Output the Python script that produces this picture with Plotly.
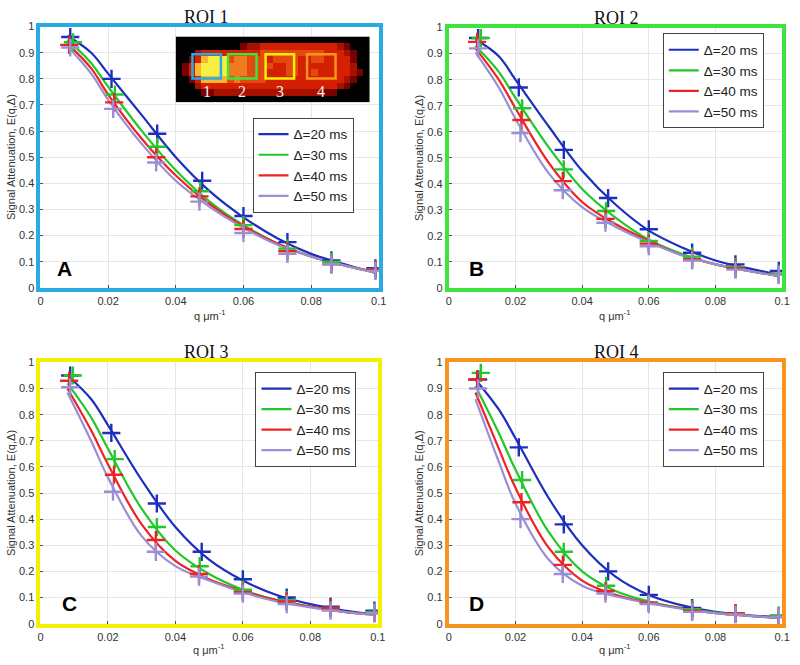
import plotly.graph_objects as go

# ---------------- data ----------------
deltas = ["Δ=20 ms", "Δ=30 ms", "Δ=40 ms", "Δ=50 ms"]
colors = ["#1c2fbe", "#22c82a", "#ee2222", "#9a8ed6"]

q20 = [0.0088, 0.0210, 0.0345, 0.0478, 0.0600, 0.0730, 0.0860, 0.0990]
q30 = [0.0096, 0.0220, 0.0345, 0.0472, 0.0600, 0.0730, 0.0860, 0.0990]
q40 = [0.0085, 0.0218, 0.0342, 0.0470, 0.0600, 0.0730, 0.0860, 0.0990]
q50 = [0.0088, 0.0215, 0.0342, 0.0470, 0.0600, 0.0730, 0.0860, 0.0990]
q_points = [q20, q30, q40, q50]

q_fit = [0.008, 0.015, 0.020, 0.030, 0.040, 0.050, 0.060, 0.070, 0.080, 0.090, 0.099]

# measured points (E) per ROI, per delta
roi1_pts = [
    [0.96, 0.80, 0.59, 0.41, 0.275, 0.175, 0.105, 0.075],
    [0.94, 0.74, 0.54, 0.37, 0.24, 0.15, 0.10, 0.07],
    [0.93, 0.71, 0.50, 0.35, 0.225, 0.14, 0.09, 0.07],
    [0.92, 0.685, 0.48, 0.33, 0.21, 0.13, 0.09, 0.065],
]
roi2_pts = [
    [0.96, 0.77, 0.53, 0.345, 0.225, 0.135, 0.09, 0.065],
    [0.96, 0.69, 0.455, 0.295, 0.18, 0.12, 0.08, 0.055],
    [0.945, 0.645, 0.41, 0.265, 0.17, 0.11, 0.075, 0.05],
    [0.92, 0.595, 0.375, 0.25, 0.16, 0.105, 0.07, 0.05],
]
roi3_pts = [
    [0.95, 0.73, 0.46, 0.275, 0.17, 0.10, 0.065, 0.05],
    [0.95, 0.63, 0.37, 0.22, 0.13, 0.09, 0.06, 0.045],
    [0.93, 0.57, 0.32, 0.19, 0.12, 0.085, 0.06, 0.04],
    [0.905, 0.505, 0.275, 0.18, 0.115, 0.075, 0.05, 0.04],
]
roi4_pts = [
    [0.935, 0.675, 0.38, 0.20, 0.11, 0.06, 0.04, 0.03],
    [0.96, 0.55, 0.275, 0.145, 0.08, 0.055, 0.04, 0.03],
    [0.935, 0.465, 0.225, 0.125, 0.08, 0.05, 0.04, 0.025],
    [0.90, 0.40, 0.19, 0.115, 0.075, 0.045, 0.035, 0.025],
]

# fitted curves (at q_fit)
roi1_fit = [
    [0.965, 0.90, 0.82, 0.66, 0.50, 0.37, 0.27, 0.19, 0.13, 0.09, 0.057],
    [0.95, 0.86, 0.77, 0.60, 0.45, 0.33, 0.24, 0.17, 0.12, 0.085, 0.06],
    [0.935, 0.84, 0.74, 0.57, 0.43, 0.32, 0.235, 0.17, 0.12, 0.085, 0.06],
    [0.925, 0.82, 0.72, 0.55, 0.41, 0.31, 0.23, 0.165, 0.12, 0.085, 0.058],
]
roi2_fit = [
    [0.955, 0.89, 0.80, 0.62, 0.45, 0.32, 0.22, 0.155, 0.105, 0.075, 0.05],
    [0.93, 0.83, 0.73, 0.54, 0.38, 0.27, 0.185, 0.13, 0.09, 0.065, 0.045],
    [0.92, 0.80, 0.69, 0.48, 0.33, 0.245, 0.18, 0.125, 0.09, 0.065, 0.045],
    [0.905, 0.77, 0.65, 0.44, 0.31, 0.235, 0.175, 0.125, 0.09, 0.065, 0.045],
]
roi3_fit = [
    [0.95, 0.86, 0.76, 0.55, 0.37, 0.245, 0.165, 0.11, 0.075, 0.05, 0.035],
    [0.92, 0.79, 0.67, 0.44, 0.28, 0.19, 0.13, 0.09, 0.065, 0.045, 0.035],
    [0.90, 0.74, 0.61, 0.38, 0.24, 0.17, 0.125, 0.09, 0.065, 0.045, 0.035],
    [0.885, 0.70, 0.56, 0.335, 0.22, 0.165, 0.12, 0.085, 0.062, 0.045, 0.033],
]
roi4_fit = [
    [0.935, 0.82, 0.71, 0.48, 0.30, 0.18, 0.11, 0.07, 0.045, 0.032, 0.025],
    [0.91, 0.73, 0.59, 0.35, 0.20, 0.125, 0.085, 0.06, 0.042, 0.03, 0.022],
    [0.885, 0.67, 0.52, 0.29, 0.165, 0.11, 0.08, 0.058, 0.04, 0.03, 0.022],
    [0.86, 0.62, 0.46, 0.245, 0.145, 0.105, 0.078, 0.056, 0.04, 0.03, 0.022],
]

roi_titles = ["ROI 1", "ROI 2", "ROI 3", "ROI 4"]
panel_letters = ["A", "B", "C", "D"]
frame_colors = ["#29aae2", "#3ee43e", "#f4f000", "#f7941d"]

x_ticks = [0, 0.02, 0.04, 0.06, 0.08, 0.1]
x_tick_labels = ["0", "0.02", "0.04", "0.06", "0.08", "0.1"]
y_ticks = [0, 0.1, 0.2, 0.3, 0.4, 0.5, 0.6, 0.7, 0.8, 0.9, 1]
y_tick_labels = ["0", "0.1", "0.2", "0.3", "0.4", "0.5", "0.6", "0.7", "0.8", "0.9", "1"]

# inset image (intensity levels 0-9), rows top to bottom
inset_rows = [
    "000000000000000000000000000000",
    "000000000034455555555555543000",
    "000455555555566666666665554300",
    "003589996776665666655665555300",
    "035899997776666556655555555400",
    "035899997776665556655655555430",
    "003588886766665555555555554300",
    "000455555555555555555555543000",
    "000033444444444444444443300000",
    "000000000000000000000000000000",
]
roi_box_colors = ["#29aae2", "#3ee43e", "#f4f000", "#f7941d"]
roi_box_labels = ["1", "2", "3", "4"]

# ---------------- layout ----------------
W, H = 800, 665
def px_x(p):
    return p / W
def px_y(p):
    return 1 - p / H

panels = [
    dict(x0=38, x1=381, y0=21, y1=287, pts=roi1_pts, fit=roi1_fit,
         legend=(253, 114), title=(206, 11), letter=(62, 267), xlab=315),
    dict(x0=452, x1=790, y0=22, y1=287, pts=roi2_pts, fit=roi2_fit,
         legend=(669, 28), title=(622, 12), letter=(480, 267), xlab=315),
    dict(x0=38, x1=380, y0=363, y1=629, pts=roi3_pts, fit=roi3_fit,
         legend=(256, 373), title=(206, 352), letter=(67, 608), xlab=655),
    dict(x0=452, x1=790, y0=363, y1=629, pts=roi4_pts, fit=roi4_fit,
         legend=(669, 373), title=(622, 352), letter=(480, 608), xlab=655),
]

fig = go.Figure()
layout = dict(
    width=W, height=H,
    margin=dict(l=0, r=0, t=0, b=0),
    paper_bgcolor="white", plot_bgcolor="white",
    font=dict(family="Liberation Sans, Arial, sans-serif", color="#333333"),
)
annotations = []
shapes = []

for i, p in enumerate(panels):
    n = i + 1
    xa = "x" if n == 1 else f"x{n}"
    ya = "y" if n == 1 else f"y{n}"
    lg = "legend" if n == 1 else f"legend{n}"
    for k in range(4):
        fig.add_trace(go.Scatter(
            x=q_fit, y=p["fit"][k], mode="lines", name=deltas[k],
            line=dict(color=colors[k], width=2.2, shape="spline", smoothing=1.0),
            xaxis=xa, yaxis=ya, legend=lg, showlegend=True,
        ))
    for k in range(4):
        fig.add_trace(go.Scatter(
            x=q_points[k], y=p["pts"][k], mode="markers", name=deltas[k],
            marker=dict(symbol="cross-thin", size=13, line=dict(color=colors[k], width=2.4)),
            xaxis=xa, yaxis=ya, showlegend=False,
        ))
    axkey = "" if n == 1 else str(n)
    layout["xaxis" + axkey] = dict(
        domain=[px_x(p["x0"]), px_x(p["x1"])], range=[0, 0.1], anchor=ya,
        tickvals=x_ticks, ticktext=x_tick_labels, showgrid=True,
        gridcolor="#e6e6e6", gridwidth=1, zeroline=False,
        showline=True, mirror=True, linecolor=frame_colors[i], linewidth=4,
        ticks="inside", ticklen=3, tickcolor="#555555",
        tickfont=dict(size=11, color="#333333"),
    )
    layout["yaxis" + axkey] = dict(
        domain=[px_y(p["y1"]), px_y(p["y0"])], range=[0, 1], anchor=xa,
        tickvals=y_ticks, ticktext=y_tick_labels, showgrid=True,
        gridcolor="#e6e6e6", gridwidth=1, zeroline=False,
        showline=True, mirror=True, linecolor=frame_colors[i], linewidth=4,
        ticks="inside", ticklen=3, tickcolor="#555555",
        tickfont=dict(size=11, color="#333333"),
    )
    layout[lg] = dict(
        x=px_x(p["legend"][0]), y=px_y(p["legend"][1]), xanchor="left", yanchor="top",
        xref="paper", yref="paper",
        bgcolor="white", bordercolor="#444444", borderwidth=1,
        font=dict(size=13.5, color="#222222", family="Liberation Sans, Arial, sans-serif"),
        tracegroupgap=0, itemwidth=30,
    )
    # title
    annotations.append(dict(
        x=px_x(p["title"][0]), y=px_y(p["title"][1]), xref="paper", yref="paper",
        text=roi_titles[i], showarrow=False, xanchor="center", yanchor="middle",
        font=dict(family="Liberation Serif, Times New Roman, serif", size=18, color="#111111"),
    ))
    # panel letter
    annotations.append(dict(
        x=px_x(p["letter"][0]), y=px_y(p["letter"][1]), xref="paper", yref="paper",
        text="<b>" + panel_letters[i] + "</b>", showarrow=False, xanchor="center", yanchor="middle",
        font=dict(family="Liberation Sans, Arial, sans-serif", size=21, color="#000000"),
    ))
    # axis titles
    annotations.append(dict(
        x=px_x((p["x0"] + p["x1"]) / 2), y=px_y(p["xlab"]), xref="paper", yref="paper",
        text="q \u03bcm<sup>-1</sup>", showarrow=False, xanchor="center", yanchor="middle",
        font=dict(size=11, color="#333333"),
    ))
    annotations.append(dict(
        x=px_x(p["x0"] - 30), y=px_y((p["y0"] + p["y1"]) / 2), xref="paper", yref="paper",
        text="Signal Attenuation, E(q,\u0394)", showarrow=False, textangle=-90,
        xanchor="center", yanchor="middle",
        font=dict(size=11, color="#333333"),
    ))

# inset heatmap in panel A
z = [[int(c) for c in row] for row in inset_rows]
fig.add_trace(go.Heatmap(
    z=z, xaxis="x5", yaxis="y5", zmin=0, zmax=9, showscale=False, hoverinfo="skip",
    colorscale=[
        [0.0, "#000000"], [0.2, "#1a0000"], [0.333, "#7a0000"], [0.444, "#a81000"],
        [0.556, "#d42000"], [0.667, "#e44a10"], [0.778, "#f07a20"],
        [0.889, "#f6b830"], [1.0, "#f8f040"],
    ],
))
layout["xaxis5"] = dict(domain=[px_x(175), px_x(372)], range=[-0.5, 29.5], anchor="y5",
                        showgrid=False, zeroline=False, showticklabels=False, ticks="", showline=False)
layout["yaxis5"] = dict(domain=[px_y(98), px_y(31)], range=[9.5, -0.5], anchor="x5",
                        showgrid=False, zeroline=False, showticklabels=False, ticks="", showline=False)

box_x0 = [2.1, 7.6, 13.4, 19.8]
for j in range(4):
    shapes.append(dict(type="rect", xref="x5", yref="y5",
                       x0=box_x0[j], x1=box_x0[j] + 4.4, y0=2.2, y1=5.9,
                       line=dict(color=roi_box_colors[j], width=2.5)))
    annotations.append(dict(x=box_x0[j] + 2.2, y=7.9, xref="x5", yref="y5",
                            text=roi_box_labels[j], showarrow=False,
                            font=dict(family="Liberation Serif, Times New Roman, serif",
                                      size=16, color="#f0f0f0")))

layout["annotations"] = annotations
layout["shapes"] = shapes
fig.update_layout(**layout)
fig.write_html("out.html", config={"displayModeBar": False},
               post_script="document.body.style.margin='0';document.body.style.overflow='hidden';")
